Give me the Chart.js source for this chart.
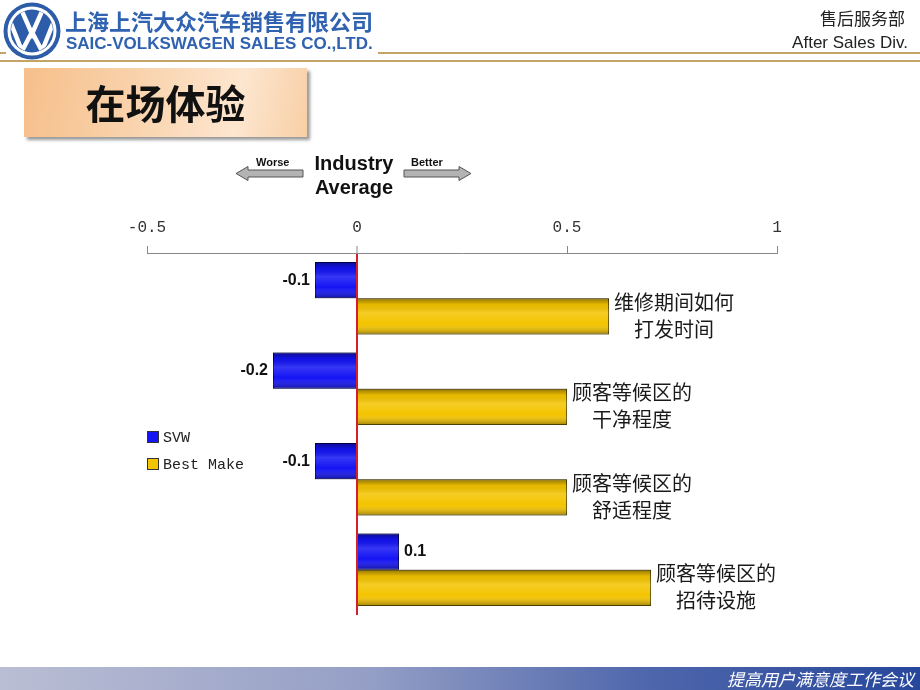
<!DOCTYPE html>
<html>
<head>
<meta charset="utf-8">
<script src="https://cdn.jsdelivr.net/npm/chart.js@4.4.0/dist/chart.umd.min.js"></script>
<style>
  body { margin: 0; background: #fff; font-family: Arial, "Liberation Sans", sans-serif; }
  #page { position: relative; width: 920px; height: 690px; overflow: hidden; background: #fff; }
  #chart { position: absolute; left: 0; top: 0; }
  .abs { position: absolute; white-space: nowrap; }
  .rule { position: absolute; height: 0; border-top: 2px solid #c3a467; }
  #cn-name { left: 65px; top: 7px; font: bold 22px "Noto Sans CJK SC", sans-serif; line-height: 26px; color: #2f62b0; }
  #en-name { left: 66px; top: 34px; font: bold 17px Arial, "Liberation Sans", sans-serif; line-height: 19px; color: #2f62b0; }
  #dept-cn { right: 15px; top: 5px; font: 17px "Noto Sans CJK SC", sans-serif; color: #222; }
  #dept-en { right: 12px; top: 33px; font: 17px Arial, "Liberation Sans", sans-serif; color: #222; }
  #title-box { left: 24px; top: 68px; width: 283px; height: 69px;
    background: linear-gradient(100deg, #f6bf8a 0%, #f9d3ad 40%, #fde6cf 75%, #f8cfa6 100%);
    box-shadow: 3px 3px 3px #9a9a9a; text-align: center;
    font: bold 40px "Noto Sans CJK SC", sans-serif; color: #111; line-height: 69px; }
  #ind-avg { left: 300px; top: 151px; width: 108px; text-align: center; font: bold 20px Arial, "Liberation Sans", sans-serif; line-height: 24px; color: #111; }
  .arrow-txt { font: bold 11px Arial, "Liberation Sans", sans-serif; color: #111; }
  #legend { left: 147px; top: 430px; font: 15px "Liberation Mono", monospace; color: #222; }
  #legend div { height: 27px; line-height: 18px; }
  #legend span.sw { display: inline-block; width: 12px; height: 12px; margin-right: 4px; vertical-align: -1px; border: 1px solid #333; box-sizing: border-box; }
  #footer { left: 0; top: 667px; width: 920px; height: 23px;
    background: linear-gradient(90deg, #babed4 0%, #959fc6 40%, #4f67ac 70%, #27479b 100%); }
  #footer span { position: absolute; right: 6px; top: 0; font: italic 17px "Noto Sans CJK SC", sans-serif; line-height: 23px; color: #fff; }
</style>
</head>
<body>
<div id="page">
  <canvas id="chart" width="920" height="690"></canvas>

  <svg class="abs" style="left:2px;top:1px" width="60" height="60" viewBox="0 0 60 60">
    <defs><clipPath id="inner"><circle cx="30" cy="30" r="21"/></clipPath></defs>
    <circle cx="30" cy="30" r="28.5" fill="#2d5da8"/>
    <circle cx="30" cy="30" r="24.5" fill="#fff"/>
    <circle cx="30" cy="30" r="21.5" fill="#2d5da8"/>
    <g clip-path="url(#inner)" fill="none" stroke="#fff" stroke-width="4.5" stroke-linejoin="miter">
      <polyline points="19,8 30,33 41,8"/>
      <polyline points="8,20 20,50 30,31 40,50 52,20"/>
    </g>
  </svg>
  <div class="abs" id="cn-name">上海上汽大众汽车销售有限公司</div>
  <div class="abs" id="en-name">SAIC-VOLKSWAGEN SALES CO.,LTD.</div>
  <div class="abs" id="dept-cn">售后服务部</div>
  <div class="abs" id="dept-en">After Sales Div.</div>
  <div class="rule" style="left:0;top:52px;width:6px"></div>
  <div class="rule" style="left:378px;top:52px;width:542px"></div>
  <div class="rule" style="left:0;top:60px;width:920px"></div>

  <div class="abs" id="title-box">在场体验</div>

  <svg class="abs" style="left:235px;top:165px" width="72" height="18" viewBox="0 0 72 18">
    <polygon points="1,8.5 13,1.5 13,5 68,5 68,12 13,12 13,15.5" fill="#b3b3b3" stroke="#555" stroke-width="1"/>
  </svg>
  <div class="abs arrow-txt" style="left:256px;top:156px">Worse</div>
  <svg class="abs" style="left:401px;top:165px" width="72" height="18" viewBox="0 0 72 18">
    <polygon points="70,8.5 58,1.5 58,5 3,5 3,12 58,12 58,15.5" fill="#b3b3b3" stroke="#555" stroke-width="1"/>
  </svg>
  <div class="abs arrow-txt" style="left:411px;top:156px">Better</div>
  <div class="abs" id="ind-avg">Industry<br>Average</div>

  <div class="abs" id="legend"></div>

  <div class="abs" id="footer"><span>提高用户满意度工作会议</span></div>
</div>

<script>
// chart data
const categories = [
  ['维修期间如何', '打发时间'],
  ['顾客等候区的', '干净程度'],
  ['顾客等候区的', '舒适程度'],
  ['顾客等候区的', '招待设施']
];
const seriesNames = ['SVW', 'Best Make'];
const svwValues = [-0.1, -0.2, -0.1, 0.1];
const bestMakeValues = [0.6, 0.5, 0.5, 0.7];
const tickValues = [-0.5, 0, 0.5, 1];
const tickLabels = ['-0.5', '0', '0.5', '1'];

const seriesColors = ['#1414f4', '#f4c400'];
const seriesBorders = ['#00006e', '#6e5800'];

// legend (html, built from the series)
const legendEl = document.getElementById('legend');
seriesNames.forEach((name, i) => {
  const row = document.createElement('div');
  row.innerHTML = '<span class="sw" style="background:' + seriesColors[i] + '"></span>' + name;
  legendEl.appendChild(row);
});

// cylinder-ish shading over each bar
const barShade = {
  id: 'barShade',
  afterDatasetsDraw(chart) {
    const ctx = chart.ctx;
    chart.data.datasets.forEach((ds, di) => {
      chart.getDatasetMeta(di).data.forEach(bar => {
        const p = bar.getProps(['x', 'y', 'base', 'height'], true);
        const left = Math.min(p.x, p.base);
        const w = Math.abs(p.x - p.base);
        const top = p.y - p.height / 2;
        const g = ctx.createLinearGradient(0, top, 0, top + p.height);
        g.addColorStop(0, 'rgba(0,0,0,0.4)');
        g.addColorStop(0.18, 'rgba(0,0,0,0.05)');
        g.addColorStop(0.4, 'rgba(255,255,255,0.15)');
        g.addColorStop(0.7, 'rgba(255,255,255,0)');
        g.addColorStop(1, 'rgba(0,0,0,0.35)');
        ctx.save();
        ctx.fillStyle = g;
        ctx.fillRect(left, top, w, p.height);
        ctx.restore();
      });
    });
  }
};

// value labels on SVW bars, category names after Best Make bars
const barLabels = {
  id: 'barLabels',
  afterDraw(chart) {
    const ctx = chart.ctx;
    ctx.save();
    // SVW values
    ctx.font = 'bold 16px Arial, "Liberation Sans", sans-serif';
    ctx.fillStyle = '#111';
    ctx.textBaseline = 'middle';
    chart.getDatasetMeta(0).data.forEach((bar, i) => {
      const v = svwValues[i];
      if (v < 0) {
        ctx.textAlign = 'right';
        ctx.fillText(String(v), bar.x - 5, bar.y);
      } else {
        ctx.textAlign = 'left';
        ctx.fillText(String(v), bar.x + 5, bar.y);
      }
    });
    // category names
    ctx.font = '20px "Noto Sans CJK SC", sans-serif';
    ctx.fillStyle = '#1a1a1a';
    ctx.textAlign = 'center';
    chart.getDatasetMeta(1).data.forEach((bar, i) => {
      const lines = categories[i];
      const w = ctx.measureText(lines[0]).width;
      const cx = bar.x + 5 + w / 2;
      ctx.fillText(lines[0], cx, bar.y - 14);
      ctx.fillText(lines[1], cx, bar.y + 13);
    });
    ctx.restore();
  }
};

new Chart(document.getElementById('chart'), {
  type: 'bar',
  data: {
    labels: categories.map(c => c.join('')),
    datasets: [
      { label: seriesNames[0], data: svwValues, backgroundColor: seriesColors[0], borderColor: seriesBorders[0], borderWidth: 1 },
      { label: seriesNames[1], data: bestMakeValues, backgroundColor: seriesColors[1], borderColor: seriesBorders[1], borderWidth: 1 }
    ]
  },
  options: {
    indexAxis: 'y',
    responsive: false,
    animation: false,
    devicePixelRatio: 1,
    layout: { padding: { left: 147, right: 143, top: 205, bottom: 75 } },
    datasets: { bar: { categoryPercentage: 0.8, barPercentage: 1.0 } },
    plugins: { legend: { display: false }, tooltip: { enabled: false } },
    scales: {
      x: {
        type: 'linear',
        position: 'top',
        min: -0.5,
        max: 1,
        z: 1,
        afterBuildTicks: (scale) => { scale.ticks = tickValues.map(v => ({ value: v })); },
        afterFit: (scale) => { scale.height = 48; },
        ticks: {
          callback: (v) => tickLabels[tickValues.indexOf(v)],
          font: { family: '"Liberation Mono", monospace', size: 16 },
          color: '#333',
          padding: 9,
          maxRotation: 0
        },
        grid: {
          color: (c) => (c.tick && c.tick.value === 0 ? '#d4202a' : 'rgba(0,0,0,0)'),
          lineWidth: (c) => (c.tick && c.tick.value === 0 ? 2 : 1),
          tickColor: '#888',
          tickLength: 7,
          tickWidth: 1
        },
        border: { display: true, color: '#888', width: 1 }
      },
      y: { display: false }
    }
  },
  plugins: [barShade, barLabels]
});
</script>
</body>
</html>
